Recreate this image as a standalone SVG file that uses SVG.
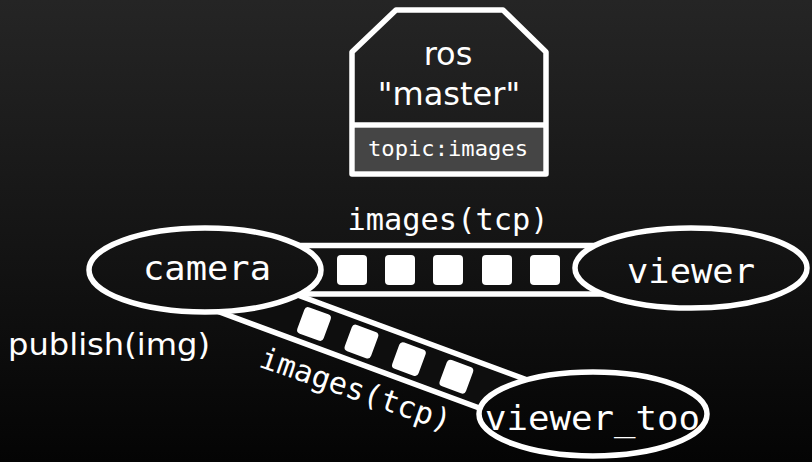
<svg xmlns="http://www.w3.org/2000/svg" width="812" height="462" viewBox="0 0 812 462">
  <defs>
    <linearGradient id="bg" x1="0" y1="0" x2="0" y2="462" gradientUnits="userSpaceOnUse">
      <stop offset="0" stop-color="#252525"/>
      <stop offset="0.5" stop-color="#151515"/>
      <stop offset="1" stop-color="#040404"/>
    </linearGradient>
    <style>
      .outline { fill: url(#bg); stroke: #ffffff; stroke-width: 5.5; stroke-linejoin: round; }
      .packet { fill: #ffffff; }
      .mono { font-family: "DejaVu Sans Mono", "Liberation Mono", monospace; fill: #ffffff; text-anchor: middle; }
      .sans { font-family: "DejaVu Sans", "Liberation Sans", sans-serif; fill: #ffffff; }
    </style>
  </defs>

  <rect x="0" y="0" width="812" height="462" fill="url(#bg)"/>

  <!-- master node -->
  <g id="master">
    <path class="outline" d="M396 10 L503 10 L546 52 L546 174 L352 174 L352 52 Z"/>
    <line x1="352" y1="125" x2="546" y2="125" stroke="#ffffff" stroke-width="5.5"/>
    <rect x="355" y="128" width="188" height="43" fill="#454545"/>
    <text class="sans" x="448" y="65" font-size="32" text-anchor="middle">ros</text>
    <text class="sans" x="449" y="105" font-size="32" text-anchor="middle">"master"</text>
    <text class="mono" x="448" y="156" font-size="22" textLength="160" lengthAdjust="spacingAndGlyphs">topic:images</text>
  </g>

  <!-- connectors: streams of image packets -->
  <g id="connectors">
    <g id="stream-viewer">
      <rect class="outline" x="250" y="245.5" width="390" height="48.5"/>
      <rect class="packet" x="337" y="255" width="30" height="30" rx="4"/>
      <rect class="packet" x="385" y="255" width="30" height="30" rx="4"/>
      <rect class="packet" x="433" y="255" width="30" height="30" rx="4"/>
      <rect class="packet" x="482" y="255" width="30" height="30" rx="4"/>
      <rect class="packet" x="530" y="255" width="30" height="30" rx="4"/>
      <text class="mono" x="448" y="230" font-size="30" textLength="201" lengthAdjust="spacingAndGlyphs">images(tcp)</text>
    </g>
    <g id="stream-viewer-too">
      <g transform="translate(314 324) rotate(20.3)">
        <rect x="-120" y="-21.5" width="360" height="43" fill="#0e0e0e" stroke="#ffffff" stroke-width="5.5" stroke-linejoin="round"/>
        <rect class="packet" x="-14" y="-14" width="28" height="28" rx="4"/>
        <rect class="packet" x="36.6" y="-14" width="28" height="28" rx="4"/>
        <rect class="packet" x="87.2" y="-14" width="28" height="28" rx="4"/>
        <rect class="packet" x="137.8" y="-14" width="28" height="28" rx="4"/>
      </g>
      <text class="mono" transform="translate(352.4 399) rotate(19)" x="0" y="0" font-size="30" textLength="200" lengthAdjust="spacingAndGlyphs">images(tcp)</text>
    </g>
    <text class="sans" x="8" y="355" font-size="31" textLength="202" lengthAdjust="spacingAndGlyphs">publish(img)</text>
  </g>

  <!-- nodes -->
  <g id="camera">
    <ellipse class="outline" cx="205" cy="270" rx="116" ry="42"/>
    <text class="mono" x="207" y="280" font-size="34" textLength="128" lengthAdjust="spacingAndGlyphs">camera</text>
  </g>
  <g id="viewer">
    <ellipse class="outline" cx="691" cy="268" rx="116" ry="40"/>
    <text class="mono" x="691" y="283" font-size="34" textLength="128" lengthAdjust="spacingAndGlyphs">viewer</text>
  </g>
  <g id="viewer_too">
    <ellipse class="outline" cx="593" cy="414" rx="114" ry="42"/>
    <text class="mono" x="592.5" y="430" font-size="34" textLength="215" lengthAdjust="spacingAndGlyphs">viewer_too</text>
  </g>
</svg>
